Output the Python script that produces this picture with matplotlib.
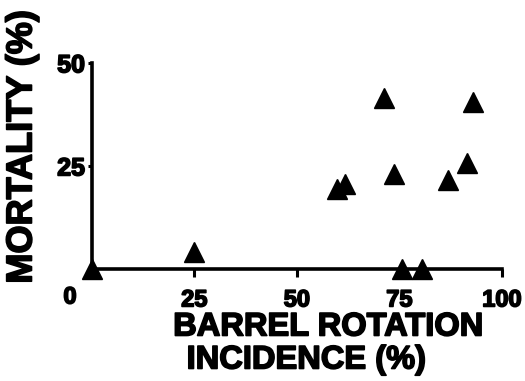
import matplotlib.pyplot as plt
import matplotlib.patheffects as pe

# barrel rotation incidence (%) vs mortality (%)
incidence = [0, 25, 59.8, 61.7, 71.2, 73.7, 75.6, 80.5, 86.8, 91.5, 92.9]
mortality = [0, 4.2, 19.4, 20.6, 41.5, 23.0, 0, 0, 21.5, 25.6, 40.5]

x_ticks = [25, 50, 75, 100]
y_ticks = [25, 50]

plt.rcParams['font.family'] = ['Liberation Sans', 'DejaVu Sans']
heavy = [pe.withStroke(linewidth=1.2, foreground='black')]

fig = plt.figure(figsize=(5.25, 3.81), dpi=100)
ax = fig.add_axes([0.175, 0.294, 0.781, 0.541])

ax.plot(incidence, mortality, linestyle='none', marker='^', markersize=15,
        color='black', clip_on=False, zorder=3)

ax.set_xlim(0, 100)
ax.set_ylim(0, 50)
for side in ['top', 'right']:
    ax.spines[side].set_visible(False)
for side in ['bottom', 'left']:
    ax.spines[side].set_linewidth(2.6)

ax.set_xticks(x_ticks)
ax.set_yticks(y_ticks)
ax.tick_params(axis='x', direction='out', length=6, width=2.2, pad=8)
ax.tick_params(axis='y', direction='out', length=3, width=2.2, pad=2)
for lab in ax.get_xticklabels():
    lab.set_fontsize(17)
    lab.set_fontweight('bold')
    lab.set_path_effects(heavy)
for lab in ax.get_yticklabels():
    lab.set_fontsize(18)
    lab.set_fontweight('bold')
    lab.set_path_effects(heavy)

# corner zero label
fig.text(70 / 525, 1 - 297 / 381, '0', fontsize=17, fontweight='bold',
         ha='center', va='center', path_effects=heavy)

fig.text(328 / 525, 1 - 327 / 381, 'BARREL ROTATION', fontsize=23.5,
         fontweight='bold', ha='center', va='center', path_effects=heavy)
fig.text(306 / 525, 1 - 360 / 381, 'INCIDENCE (%)', fontsize=23.5,
         fontweight='bold', ha='center', va='center', path_effects=heavy)
fig.text(22 / 525, 1 - 147 / 381, 'MORTALITY (%)', fontsize=26,
         fontweight='bold', ha='center', va='center', rotation=90,
         path_effects=heavy)

fig.savefig('out.png', dpi=100)
